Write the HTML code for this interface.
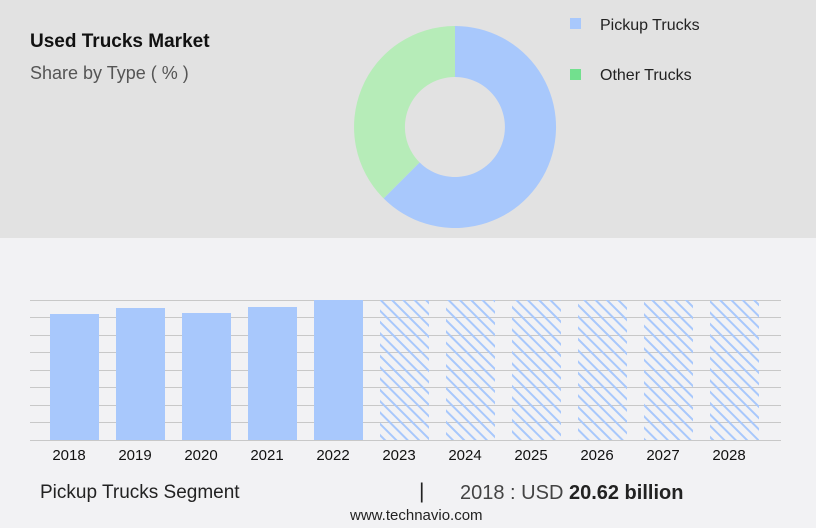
<!DOCTYPE html><html><head><style>
body{margin:0;width:816px;height:528px;background:#f2f2f4;font-family:"Liberation Sans",sans-serif;position:relative;overflow:hidden}
.top{position:absolute;left:0;top:0;width:816px;height:238px;background:#e2e2e2}
.t{position:absolute;white-space:nowrap}
</style></head><body>
<div class="top"></div>
<div class="t" style="left:30px;top:31px;font-size:19px;font-weight:bold;color:#111">Used Trucks Market</div>
<div class="t" style="left:30px;top:63px;font-size:18px;color:#555">Share by Type ( % )</div>
<svg style="position:absolute;left:0;top:0" width="816" height="528">
<defs><pattern id="h" width="8" height="8" patternUnits="userSpaceOnUse" patternTransform="rotate(-45)"><rect width="2" height="8" fill="#a8c8fc"/></pattern>
<clipPath id="c"><rect x="0" y="0" width="816" height="228"/></clipPath></defs>
<g clip-path="url(#c)">
<path d="M455 26 A101 101 0 1 1 383.6 198.4 L419.6 162.4 A50 50 0 1 0 455 77 Z" fill="#a8c8fc"/>
<path d="M383.6 198.4 A101 101 0 0 1 455 26 L455 77 A50 50 0 0 0 419.6 162.4 Z" fill="#b6ecb8"/>
</g>
<rect x="570" y="18" width="11" height="11" fill="#a8c8fc"/>
<rect x="570" y="69" width="11" height="11" fill="#72e08e"/>
<text x="600" y="30" font-size="16" fill="#222" font-family="Liberation Sans">Pickup Trucks</text>
<text x="600" y="80" font-size="16" fill="#222" font-family="Liberation Sans">Other Trucks</text>
<g stroke="#c8c8c8" stroke-width="1">
<line x1="30" x2="781" y1="300.5" y2="300.5"/><line x1="30" x2="781" y1="317.5" y2="317.5"/><line x1="30" x2="781" y1="335.5" y2="335.5"/><line x1="30" x2="781" y1="352.5" y2="352.5"/><line x1="30" x2="781" y1="370.5" y2="370.5"/><line x1="30" x2="781" y1="387.5" y2="387.5"/><line x1="30" x2="781" y1="405.5" y2="405.5"/><line x1="30" x2="781" y1="422.5" y2="422.5"/><line x1="30" x2="781" y1="440.5" y2="440.5"/>
</g>
<g fill="#a8c8fc">
<rect x="50" y="314" width="49" height="126"/><rect x="116" y="308" width="49" height="132"/><rect x="182" y="313" width="49" height="127"/><rect x="248" y="307" width="49" height="133"/><rect x="314" y="300" width="49" height="140"/>
</g>
<g fill="url(#h)">
<rect x="380" y="300" width="49" height="140"/><rect x="446" y="300" width="49" height="140"/><rect x="512" y="300" width="49" height="140"/><rect x="578" y="300" width="49" height="140"/><rect x="644" y="300" width="49" height="140"/><rect x="710" y="300" width="49" height="140"/>
</g>
<g font-size="15" fill="#111" text-anchor="middle" font-family="Liberation Sans">
<text x="69" y="460">2018</text><text x="135" y="460">2019</text><text x="201" y="460">2020</text><text x="267" y="460">2021</text><text x="333" y="460">2022</text><text x="399" y="460">2023</text><text x="465" y="460">2024</text><text x="531" y="460">2025</text><text x="597" y="460">2026</text><text x="663" y="460">2027</text><text x="729" y="460">2028</text>
</g>
</svg>
<div class="t" style="left:40px;top:482px;font-size:19px;color:#222">Pickup Trucks Segment</div>
<div class="t" style="left:419px;top:480px;font-size:21px;color:#222">|</div>
<div class="t" style="left:460px;top:482px;font-size:20px;color:#444">2018 : USD <b style="color:#222">20.62 billion</b></div>
<div class="t" style="left:350px;top:507px;font-size:15px;color:#222">www.technavio.com</div>
</body></html>
